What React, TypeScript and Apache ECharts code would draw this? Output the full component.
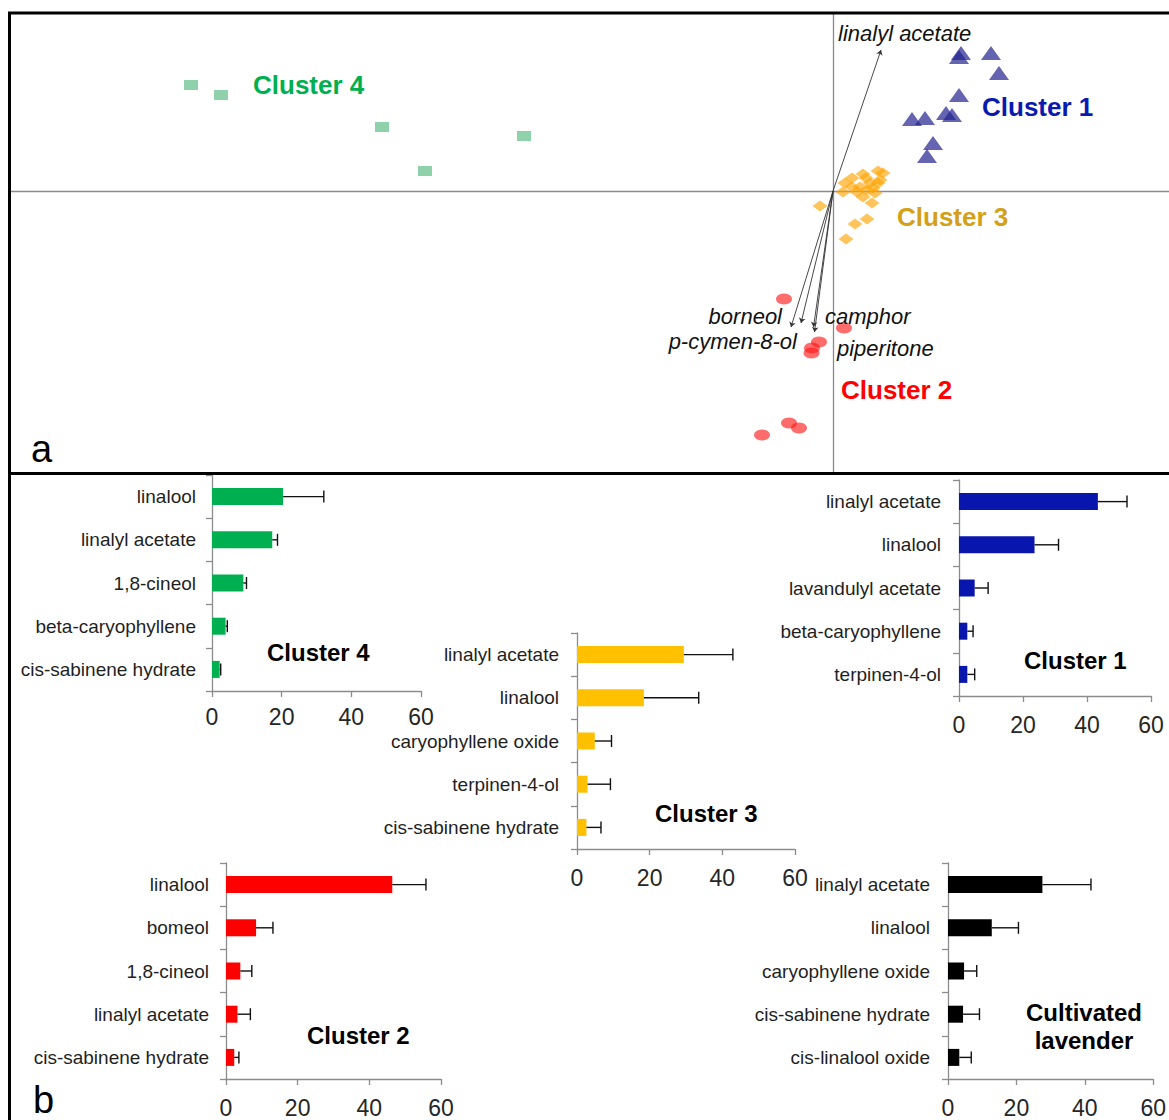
import React, { useEffect, useRef } from "react";
import * as echarts from "echarts";

const FONT = '"Liberation Sans", Arial, sans-serif';

// ---------- Panel a: PCA scores ----------
const cluster4Points = [
  [-6.42, 1.06], [-6.12, 0.96], [-4.51, 0.64], [-3.09, 0.55], [-4.08, 0.2],
];
const cluster1Points = [
  [1.28, 1.38], [1.26, 1.34], [1.58, 1.38], [1.66, 1.18], [1.26, 0.96],
  [0.79, 0.72], [0.92, 0.73], [1.13, 0.78], [1.19, 0.76], [1.0, 0.48], [0.94, 0.35],
];
const cluster3Points = [
  [-0.13, -0.15], [0.22, -0.33], [0.34, -0.28], [0.13, -0.48], [0.12, 0.08],
  [0.19, 0.13], [0.3, 0.17], [0.45, 0.2], [0.5, 0.18], [0.47, 0.11],
  [0.37, 0.08], [0.27, 0.04], [0.24, -0.01], [0.3, -0.06], [0.39, -0.12],
  [0.42, -0.02], [0.34, 0.01], [0.45, 0.08], [0.19, 0.04], [0.1, -0.01],
  [0.33, 0.13], [0.4, 0.03],
];
const cluster2Points = [
  [-0.49, -1.08], [0.11, -1.37], [-0.14, -1.51], [-0.21, -1.57], [-0.215, -1.62],
  [-0.44, -2.32], [-0.34, -2.37], [-0.71, -2.44],
];
const loadingNames = ["linalyl acetate", "borneol", "p-cymen-8-ol", "camphor", "piperitone"];
const loadingVectors = [
  [0.48, 1.41], [-0.42, -1.36], [-0.32, -1.32], [-0.195, -1.36], [-0.185, -1.41],
];

// ---------- Panel b: bar charts ----------
const xTicks = [0, 20, 40, 60];

const c4Names = ["linalool", "linalyl acetate", "1,8-cineol", "beta-caryophyllene", "cis-sabinene hydrate"];
const c4Values = [20.4, 17.3, 9.0, 3.9, 2.2];
const c4Errors = [11.7, 1.5, 0.9, 0.5, 0.3];

const c3Names = ["linalyl acetate", "linalool", "caryophyllene oxide", "terpinen-4-ol", "cis-sabinene hydrate"];
const c3Values = [29.4, 18.4, 4.9, 2.9, 2.6];
const c3Errors = [13.5, 15.1, 4.6, 6.3, 4.0];

const c1Names = ["linalyl acetate", "linalool", "lavandulyl acetate", "beta-caryophyllene", "terpinen-4-ol"];
const c1Values = [43.4, 23.6, 4.9, 2.6, 2.6];
const c1Errors = [9.1, 7.5, 4.2, 1.8, 2.3];

const c2Names = ["linalool", "bomeol", "1,8-cineol", "linalyl acetate", "cis-sabinene hydrate"];
const c2Values = [46.4, 8.4, 4.0, 3.2, 2.3];
const c2Errors = [9.4, 4.7, 3.2, 3.6, 1.3];

const cvNames = ["linalyl acetate", "linalool", "caryophyllene oxide", "cis-sabinene hydrate", "cis-linalool oxide"];
const cvValues = [27.6, 12.8, 4.7, 4.4, 3.3];
const cvErrors = [14.2, 7.8, 3.7, 4.8, 3.5];

const barPanels = [
  { names: c4Names, values: c4Values, errors: c4Errors, color: "#00B050", grid: { left: 212, top: 475, width: 209, height: 216 }, labelMargin: 16, tickMargin: 14 },
  { names: c3Names, values: c3Values, errors: c3Errors, color: "#FFC000", grid: { left: 577, top: 633, width: 218, height: 216 }, labelMargin: 18, tickMargin: 17 },
  { names: c1Names, values: c1Values, errors: c1Errors, color: "#0816AE", grid: { left: 959, top: 480, width: 192, height: 216 }, labelMargin: 18, tickMargin: 17 },
  { names: c2Names, values: c2Values, errors: c2Errors, color: "#FF0000", grid: { left: 226, top: 863, width: 215, height: 216 }, labelMargin: 17, tickMargin: 17 },
  { names: cvNames, values: cvValues, errors: cvErrors, color: "#000000", grid: { left: 948, top: 863, width: 215, height: 216 }, labelMargin: 18, tickMargin: 17 },
];

function txt(x: number, y: number, text: string, font: string, fill: string, align = "left") {
  return {
    type: "text",
    x,
    y,
    z: 100,
    style: {
      text,
      font,
      fill,
      textAlign: align,
      align,
      textVerticalAlign: "middle",
      verticalAlign: "middle",
    },
  };
}

function hline(x1: number, y1: number, x2: number, y2: number, w: number) {
  return {
    type: "line",
    z: 100,
    shape: { x1, y1, x2, y2 },
    style: { stroke: "#000", lineWidth: w },
  };
}

export default function App() {
  const ref = useRef<HTMLDivElement>(null);

  useEffect(() => {
    document.body.style.margin = "0";
    if (!ref.current) return;
    const chart = echarts.init(ref.current, undefined, { renderer: "svg" });

    const grids: any[] = [{ left: 10, top: 14, width: 1159, height: 458 }];
    const xAxes: any[] = [
      {
        gridIndex: 0, type: "value", min: -8.23, max: 3.36,
        axisLine: { show: true, onZero: true, lineStyle: { color: "#8a8a8a", width: 1.3 } },
        axisTick: { show: false }, axisLabel: { show: false }, splitLine: { show: false },
      },
    ];
    const yAxes: any[] = [
      {
        gridIndex: 0, type: "value", min: -2.81, max: 1.77,
        axisLine: { show: true, onZero: true, lineStyle: { color: "#8a8a8a", width: 1.3 } },
        axisTick: { show: false }, axisLabel: { show: false }, splitLine: { show: false },
      },
    ];
    const series: any[] = [
      {
        type: "lines", coordinateSystem: "cartesian2d", xAxisIndex: 0, yAxisIndex: 0,
        symbol: ["none", "arrow"], symbolSize: 5, z: 3,
        lineStyle: { color: "#333", width: 0.9, opacity: 1 },
        data: loadingVectors.map((v, i) => ({ name: loadingNames[i], coords: [[0, 0], v] })),
      },
      {
        type: "scatter", xAxisIndex: 0, yAxisIndex: 0, symbol: "rect", symbolSize: [14, 10],
        itemStyle: { color: "#72C695" }, data: cluster4Points, z: 4,
      },
      {
        type: "scatter", xAxisIndex: 0, yAxisIndex: 0, symbol: "triangle", symbolSize: [20, 14],
        itemStyle: { color: "rgba(36,36,145,0.88)" }, data: cluster1Points, z: 4,
      },
      {
        type: "scatter", xAxisIndex: 0, yAxisIndex: 0, symbol: "diamond", symbolSize: [15, 11],
        itemStyle: { color: "rgba(255,165,0,0.8)" }, data: cluster3Points, z: 4,
      },
      {
        type: "scatter", xAxisIndex: 0, yAxisIndex: 0, symbol: "circle", symbolSize: [16, 11],
        itemStyle: { color: "rgba(255,20,20,0.78)" }, data: cluster2Points, z: 4,
      },
    ];

    barPanels.forEach((p, k) => {
      const gi = k + 1;
      grids.push(p.grid);
      xAxes.push({
        gridIndex: gi, type: "value", min: 0, max: 60, interval: 20,
        axisLine: { show: true, lineStyle: { color: "#8c8c8c", width: 1.3 } },
        axisTick: { show: true, length: 6, lineStyle: { color: "#8c8c8c", width: 1.3 } },
        axisLabel: {
          fontSize: 23, color: "#262626", fontFamily: FONT, margin: p.tickMargin,
          customValues: xTicks,
        },
        splitLine: { show: false },
      });
      yAxes.push({
        gridIndex: gi, type: "category", data: p.names, inverse: true,
        axisLine: { show: true, lineStyle: { color: "#8c8c8c", width: 1.3 } },
        axisTick: { show: true, length: 6, lineStyle: { color: "#8c8c8c", width: 1.3 } },
        axisLabel: { fontSize: 19, color: "#1f1f1f", fontFamily: FONT, margin: p.labelMargin, interval: 0 },
        splitLine: { show: false },
      });
      series.push({
        type: "bar", xAxisIndex: gi, yAxisIndex: gi, data: p.values, barWidth: 17,
        itemStyle: { color: p.color }, z: 2,
      });
      series.push({
        type: "custom", xAxisIndex: gi, yAxisIndex: gi, z: 3,
        data: p.values.map((v, i) => [v, i, v + p.errors[i]]),
        encode: { x: [0, 2], y: 1 },
        renderItem: (params: any, api: any) => {
          const v = api.value(0);
          const c = api.value(1);
          const hi = api.value(2);
          const p0 = api.coord([v, c]);
          const p1 = api.coord([hi, c]);
          const st = { stroke: "#111", lineWidth: 1.4 };
          return {
            type: "group",
            children: [
              { type: "line", shape: { x1: p0[0], y1: p0[1], x2: p1[0], y2: p1[1] }, style: st },
              { type: "line", shape: { x1: p1[0], y1: p1[1] - 6, x2: p1[0], y2: p1[1] + 6 }, style: st },
            ],
          };
        },
      });
    });

    const italic = `italic 22px ${FONT}`;
    const boldBig = `bold 26px ${FONT}`;
    const boldTitle = `bold 24px ${FONT}`;
    const letter = `38px ${FONT}`;

    const graphic: any[] = [
      // frame
      hline(8, 13, 1169, 13, 3),
      hline(9.5, 12, 9.5, 1120, 3),
      hline(8, 473.5, 1169, 473.5, 3),
      // loading labels
      txt(838, 33, "linalyl acetate", italic, "#111"),
      txt(782, 316, "borneol", italic, "#111", "right"),
      txt(797, 341, "p-cymen-8-ol", italic, "#111", "right"),
      txt(825, 316, "camphor", italic, "#111"),
      txt(837, 348, "piperitone", italic, "#111"),
      // cluster labels (panel a)
      txt(253, 85, "Cluster 4", boldBig, "#00B050"),
      txt(982, 107, "Cluster 1", boldBig, "#0A1AB0"),
      txt(897, 217, "Cluster 3", boldBig, "#D4A017"),
      txt(841, 390, "Cluster 2", boldBig, "#FF0000"),
      // bar chart titles (panel b)
      txt(267, 652, "Cluster 4", boldTitle, "#000"),
      txt(655, 813, "Cluster 3", boldTitle, "#000"),
      txt(1024, 660, "Cluster 1", boldTitle, "#000"),
      txt(307, 1035, "Cluster 2", boldTitle, "#000"),
      txt(1084, 1012, "Cultivated", boldTitle, "#000", "center"),
      txt(1084, 1040, "lavender", boldTitle, "#000", "center"),
      // panel letters
      txt(31, 449, "a", letter, "#000"),
      txt(33, 1100, "b", letter, "#000"),
    ];

    chart.setOption({
      animation: false,
      backgroundColor: "#fff",
      textStyle: { fontFamily: FONT },
      grid: grids,
      xAxis: xAxes,
      yAxis: yAxes,
      series,
      graphic,
    });

    return () => chart.dispose();
  }, []);

  return <div ref={ref} style={{ width: 1169, height: 1120 }} />;
}
